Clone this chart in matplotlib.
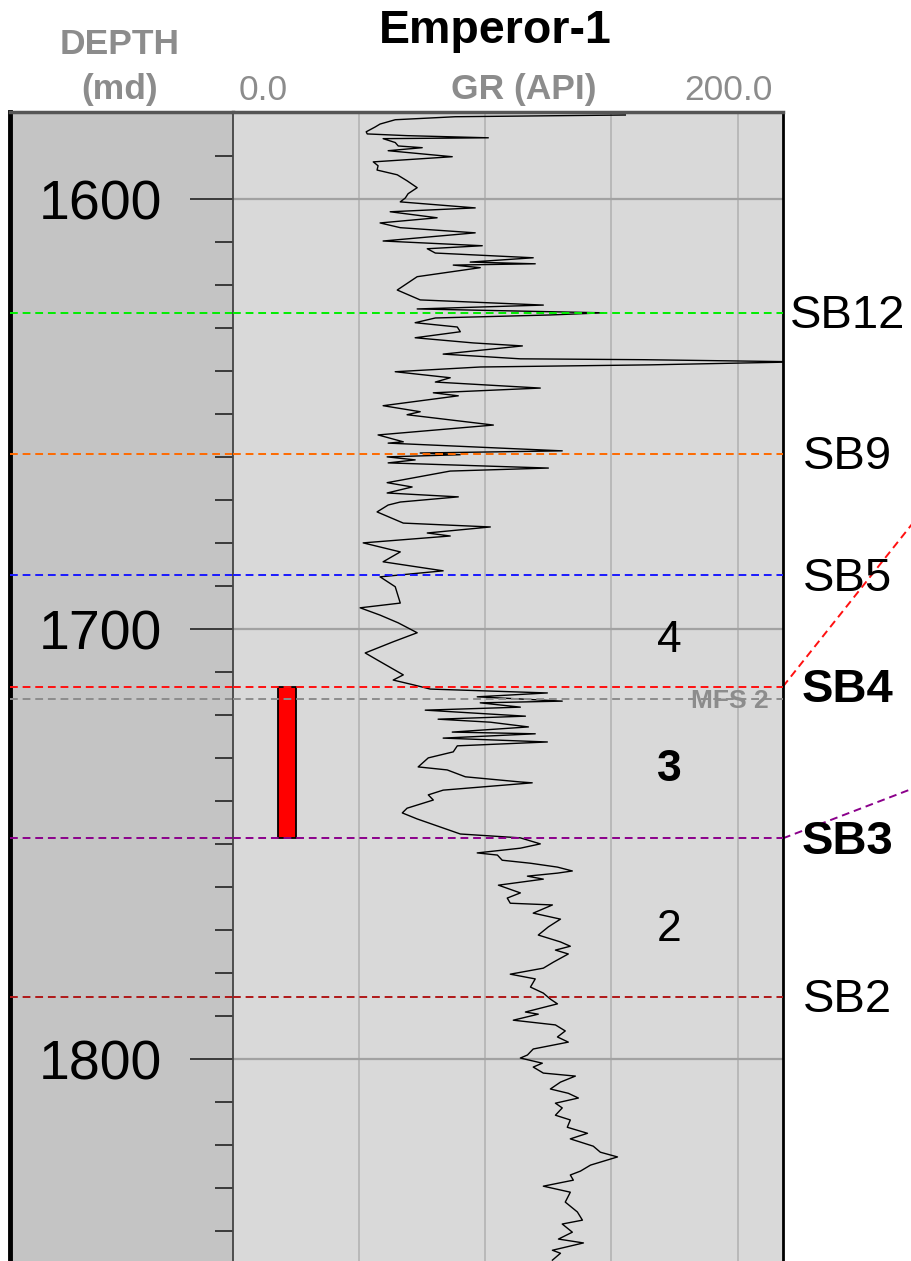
import matplotlib.pyplot as plt
from matplotlib.ticker import MultipleLocator
from matplotlib.transforms import blended_transform_factory

plt.rcParams['font.family'] = ['Liberation Sans', 'DejaVu Sans']

# Gamma ray log, Emperor-1 (depth in m MD, GR in API)
depth = [1580.5, 1580.9, 1581.2, 1581.6, 1582.6, 1583.3, 1584.4, 1584.9, 1585.3, 1585.8,
         1586.0, 1586.9, 1587.7, 1588.1, 1588.8, 1590.2, 1591.4, 1592.3, 1593.3, 1594.4,
         1595.8, 1597.4, 1598.8, 1599.8, 1600.7, 1602.1, 1603.0, 1604.4, 1605.6, 1606.7,
         1607.9, 1609.8, 1610.9, 1611.6, 1612.6, 1613.7, 1614.7, 1615.1, 1615.4, 1616.0,
         1618.1, 1621.2, 1623.5, 1624.7, 1625.6, 1626.5, 1627.0, 1627.7, 1628.8, 1629.8,
         1630.9, 1632.3, 1633.5, 1634.2, 1636.1, 1637.2, 1637.4, 1637.9, 1638.6, 1639.1,
         1640.2, 1641.6, 1642.6, 1644.0, 1645.1, 1645.8, 1648.1, 1649.5, 1650.2, 1652.6,
         1654.9, 1656.5, 1656.8, 1658.6, 1659.1, 1659.5, 1660.0, 1660.7, 1661.4, 1662.6,
         1663.3, 1666.0, 1667.0, 1668.4, 1669.3, 1670.5, 1671.2, 1672.8, 1675.4, 1676.3,
         1677.7, 1678.4, 1680.0, 1682.1, 1684.4, 1686.5, 1687.9, 1690.2, 1694.0, 1695.1,
         1696.8, 1698.6, 1700.9, 1703.0, 1705.6, 1707.2, 1710.7,
         1711.9, 1713.0, 1714.0, 1714.9, 1715.8, 1716.8, 1717.2, 1718.2, 1718.9, 1720.3,
         1721.0, 1721.7, 1722.8, 1724.0, 1724.4, 1725.4, 1726.3, 1727.2, 1728.6, 1730.0,
         1732.1, 1732.8, 1734.4, 1735.6, 1735.8, 1736.8, 1737.5, 1738.6, 1739.8, 1741.7,
         1742.8, 1744.2, 1746.3, 1747.7, 1748.6, 1750.0,
         1751.0, 1752.1, 1752.6, 1753.8, 1754.5, 1755.4, 1756.3, 1756.8, 1757.5, 1758.2,
         1759.6, 1761.4, 1762.6, 1763.8, 1764.2, 1766.1, 1767.5, 1769.3, 1771.2, 1772.8,
         1773.8, 1774.7, 1775.6, 1777.5, 1778.9, 1780.3, 1781.4, 1783.3, 1784.7, 1786.1,
         1787.2, 1789.1, 1789.6, 1791.0, 1792.1, 1793.5, 1794.9, 1796.1,
         1797.7, 1799.1, 1799.8, 1801.0, 1801.9, 1803.3, 1804.0, 1805.4, 1807.0, 1808.0,
         1809.1, 1810.3, 1811.4, 1813.1, 1814.2, 1815.9, 1817.3, 1818.6, 1820.3, 1821.7,
         1822.8, 1824.7, 1826.1, 1827.0, 1828.2, 1829.6, 1831.0, 1833.3, 1835.6, 1837.5,
         1838.4, 1840.3, 1841.9, 1842.8, 1844.5, 1845.2, 1846.8]
gr = [155.5, 88.1, 78.2, 64.3, 58.3, 56.3, 52.8, 53.2, 69.0, 101.2,
      59.5, 64.3, 65.5, 75.0, 61.5, 86.9, 55.6, 57.5, 57.1, 65.1,
      69.0, 73.0, 69.4, 68.3, 66.3, 96.0, 62.3, 80.9, 58.3, 66.3,
      96.0, 59.5, 98.8, 77.0, 80.2, 119.0, 94.0, 119.8, 87.3, 98.0,
      73.0, 65.1, 74.2, 123.0, 73.0, 146.8, 125.8, 80.2, 72.2, 88.9,
      90.1, 72.2, 95.2, 114.7, 83.3, 113.9, 162.7, 225.0, 165.5, 98.0,
      64.3, 86.1, 80.2, 121.8, 79.4, 89.3, 59.5, 74.2, 69.0, 103.2,
      57.5, 67.5, 61.5, 130.5, 74.2, 90.1, 61.1, 72.2, 61.5, 125.0,
      86.1, 61.1, 71.0, 61.1, 89.3, 66.3, 61.5, 57.1, 67.5, 102.0,
      77.0, 86.1, 51.6, 66.3, 59.5, 83.3, 58.3, 64.3, 66.3, 50.4,
      58.3, 65.5, 73.0, 63.5, 52.4, 57.1, 67.5,
      63.5, 71.4, 78.2, 124.6, 96.8, 130.5, 98.0, 113.9, 76.2, 115.9,
      81.3, 102.0, 117.1, 86.9, 119.8, 83.3, 124.6, 88.9, 87.3, 77.4,
      73.4, 84.9, 92.1, 113.9, 118.6, 98.0, 83.3, 77.4, 79.4, 69.0,
      67.1, 73.0, 83.3, 90.1, 113.9, 121.8,
      113.9, 96.8, 104.8, 106.7, 117.9, 128.6, 134.5, 128.6, 116.7, 123.0,
      105.2, 113.9, 108.7, 109.9, 126.6, 119.0, 129.8, 125.0, 121.0, 129.8,
      133.7, 127.8, 132.9, 127.0, 123.0, 109.9, 119.8, 117.9, 123.0, 125.8,
      128.6, 115.9, 121.0, 111.1, 127.8, 131.7, 128.6, 132.9,
      119.0, 116.7, 113.9, 122.6, 119.0, 123.0, 135.7, 129.8, 125.8, 132.9,
      136.9, 127.8, 130.5, 127.8, 133.7, 132.5, 140.5, 133.7, 142.8, 145.6,
      152.4, 141.7, 137.7, 133.7, 134.9, 123.0, 133.7, 131.7, 136.5, 138.5,
      130.5, 134.5, 129.0, 138.9, 126.6, 129.8, 126.6]

# Sequence stratigraphic surfaces
horizon_names = ['SB12', 'SB9', 'SB5', 'SB4', 'MFS 2', 'SB3', 'SB2']
horizon_depths = [1626.5, 1659.3, 1687.5, 1713.4, 1716.2, 1748.7, 1785.6]
horizon_colors = ['#00ee00', '#ff6a00', '#1a1aff', '#ff1010', '#8c8c8c', '#8b008b', '#b01818']
horizon_bold = [False, False, False, True, True, True, False]

# Sequence numbers
seq_labels = ['4', '3', '2']
seq_depths = [1702.8, 1732.8, 1770.0]
seq_bold = [False, True, False]

# Interval marker between SB4 and SB3
bar_top = 1713.4
bar_base = 1748.7
bar_gr_left = 17.9
bar_gr_right = 25.0

top_depth = 1579.8
base_depth = 1847.0
gr_max = 218.0

W, H = 912, 1261
fig = plt.figure(figsize=(W / 100, H / 100), dpi=100)
fig.patch.set_facecolor('white')

top_frac = 1 - 112 / H
ax_d = fig.add_axes([10 / W, 0, 223 / W, top_frac])
ax_g = fig.add_axes([233 / W, 0, 550 / W, top_frac])

# depth track
ax_d.set_facecolor('#c4c4c4')
ax_d.set_ylim(base_depth, top_depth)
ax_d.set_xlim(0, 1)
ax_d.set_xticks([])
ax_d.yaxis.tick_right()
ax_d.yaxis.set_major_locator(MultipleLocator(100))
ax_d.yaxis.set_minor_locator(MultipleLocator(10))
ax_d.tick_params(axis='y', which='major', direction='in', length=31, width=1.2,
                 color='#222222', labelright=False)
ax_d.tick_params(axis='y', which='minor', direction='in', length=13, width=1.2,
                 color='#222222')
ax_d.spines['left'].set_linewidth(3.5)
ax_d.spines['left'].set_color('black')
ax_d.spines['right'].set_visible(False)
ax_d.spines['bottom'].set_visible(False)
ax_d.spines['top'].set_linewidth(2.5)
ax_d.spines['top'].set_color('#555555')

trans_d = blended_transform_factory(ax_d.transAxes, ax_d.transData)
for d in [1600, 1700, 1800]:
    ax_d.text(0.404, d + 1.5, str(d), transform=trans_d, ha='center', va='center',
              fontsize=40, color='black')

# GR track
ax_g.set_facecolor('#d9d9d9')
ax_g.set_ylim(base_depth, top_depth)
ax_g.set_xlim(0, gr_max)
ax_g.set_xticks([])
ax_g.set_yticks([])
for x in [50, 100, 150, 200]:
    ax_g.axvline(x, color='#b6b6b6', lw=1.3, zorder=1)
for d in [1600, 1700, 1800]:
    ax_g.axhline(d, color='#a2a2a2', lw=1.6, zorder=1)
ax_g.spines['left'].set_color('#444444')
ax_g.spines['left'].set_linewidth(1.3)
ax_g.spines['right'].set_color('black')
ax_g.spines['right'].set_linewidth(2)
ax_g.spines['bottom'].set_visible(False)
ax_g.spines['top'].set_linewidth(2.5)
ax_g.spines['top'].set_color('#555555')

ax_g.plot(gr, depth, color='black', lw=1.0, zorder=3)

ax_g.bar((bar_gr_left + bar_gr_right) / 2, bar_base - bar_top, width=bar_gr_right - bar_gr_left,
         bottom=bar_top, color='#ff0000', edgecolor='black', lw=1.3, zorder=4)

# horizons across both tracks
for name, d, c, b in zip(horizon_names, horizon_depths, horizon_colors, horizon_bold):
    for ax in (ax_d, ax_g):
        ax.axhline(d, color=c, lw=1.4, ls=(0, (4, 2.5)), zorder=5)
    if name == 'MFS 2':
        ax_g.text(196.8, d + 0.5, name, ha='center', va='center', fontsize=19,
                  fontweight='bold', color='#8c8c8c', zorder=6)
    else:
        ax_g.text(243.6, d + 0.8, name, ha='center', va='center', fontsize=34,
                  fontweight='bold' if b else 'normal', color='black', clip_on=False)

# correlation ties leaving the track
ax_g.plot([gr_max, 270.0], [1713.4, 1675.0], color='#ff1010', lw=1.4, ls=(0, (4, 2.5)),
          clip_on=False)
ax_g.plot([gr_max, 270.0], [1748.7, 1737.0], color='#8b008b', lw=1.4, ls=(0, (4, 2.5)),
          clip_on=False)

for lab, d, b in zip(seq_labels, seq_depths, seq_bold):
    ax_g.text(173.0, d, lab, ha='center', va='center', fontsize=32,
              fontweight='bold' if b else 'normal', color='black')

# headers
fig.text(495 / W, 1 - 31 / H, 'Emperor-1', ha='center', va='center', fontsize=33.5,
         fontweight='bold', color='black')
grey = '#8c8c8c'
fig.text(120 / W, 1 - 44 / H, 'DEPTH', ha='center', va='center', fontsize=25.5,
         fontweight='bold', color=grey)
fig.text(120 / W, 1 - 89 / H, '(md)', ha='center', va='center', fontsize=25.5,
         fontweight='bold', color=grey)
fig.text(263 / W, 1 - 90 / H, '0.0', ha='center', va='center', fontsize=25.5, color=grey)
fig.text(524 / W, 1 - 90 / H, 'GR (API)', ha='center', va='center', fontsize=25.5,
         fontweight='bold', color=grey)
fig.text(728 / W, 1 - 90 / H, '200.0', ha='center', va='center', fontsize=25.5, color=grey)

fig.savefig('out.png', dpi=100)
